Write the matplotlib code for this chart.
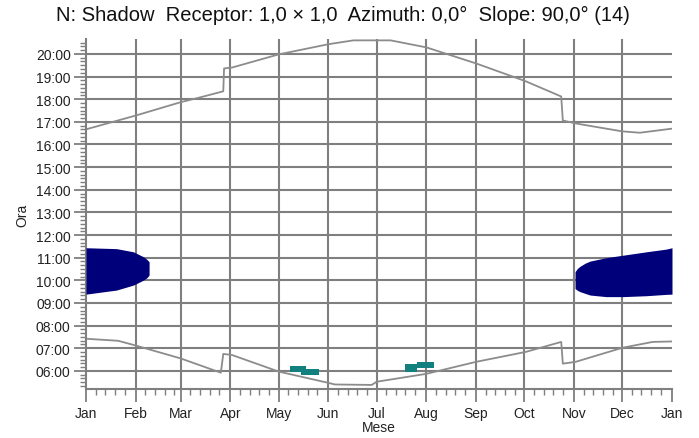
import matplotlib
matplotlib.use('Agg')
from matplotlib import pyplot as plt
from matplotlib.ticker import FixedLocator, FuncFormatter

plt.rcParams['font.family'] = ['Liberation Sans', 'DejaVu Sans']

# month starts (day of year) and labels
month_days = [0, 31, 59, 90, 120, 151, 181, 212, 243, 273, 304, 334, 365]
month_labels = ['Jan', 'Feb', 'Mar', 'Apr', 'May', 'Jun', 'Jul', 'Aug',
                'Sep', 'Oct', 'Nov', 'Dec', 'Jan']

# sunset line (hours), DST jumps included
sunset_days = [0, 31, 59, 71, 85.5, 86, 91, 120, 151, 166.6, 189.7, 212, 243,
               274, 296, 297, 305, 334, 345, 365]
sunset_hours = [16.67, 17.28, 17.87, 18.08, 18.35, 19.36, 19.40, 19.98, 20.43,
                20.60, 20.60, 20.29, 19.58, 18.79, 18.12, 17.06, 16.93, 16.58,
                16.52, 16.70]

# sunrise line
sunrise_days = [0, 20, 31, 59, 84, 85.5, 91, 120, 151, 155, 178, 181, 212, 243,
                274, 296, 297, 305, 334, 353, 365]
sunrise_hours = [7.42, 7.33, 7.12, 6.55, 5.92, 6.75, 6.70, 5.97, 5.47, 5.40,
                 5.38, 5.52, 5.87, 6.40, 6.84, 7.28, 6.32, 6.40, 7.02, 7.28, 7.30]

# shadow periods (navy)
winter1_days = [0, 19, 29.5, 35.8, 38, 39.3]
winter1_hi = [11.44, 11.40, 11.26, 11.04, 10.92, 10.82]
winter1_lo = [9.39, 9.57, 9.79, 10.01, 10.12, 10.23]

winter2_days = [304.6, 306, 307.7, 311, 314, 324, 334.5, 349, 361.5, 365]
winter2_hi = [10.38, 10.52, 10.62, 10.76, 10.85, 11.00, 11.11, 11.26, 11.38, 11.44]
winter2_lo = [9.64, 9.56, 9.50, 9.42, 9.35, 9.28, 9.28, 9.32, 9.38, 9.39]

# small summer shadow patches (teal)
summer1_days = [127, 134, 137, 145]
summer1_hi = [6.21, 6.21, 6.09, 6.09]
summer1_lo = [5.97, 5.84, 5.84, 5.84]

summer2_days = [199, 206, 216.5]
summer2_hi = [6.31, 6.38, 6.38]
summer2_lo = [5.97, 6.13, 6.13]

fig = plt.figure(figsize=(6.99, 4.39), dpi=100)
ax = fig.add_axes([86/699, 1-390/439, 586/699, 350/439])

gc = '#7f7f7f'
ax.fill_between(winter1_days, winter1_lo, winter1_hi, color='#00007a', lw=0, zorder=3)
ax.fill_between(winter2_days, winter2_lo, winter2_hi, color='#00007a', lw=0, zorder=3)
ax.fill_between(summer1_days, summer1_lo, summer1_hi, step='post', color='#138080', lw=0, zorder=3)
ax.fill_between(summer2_days, summer2_lo, summer2_hi, step='post', color='#138080', lw=0, zorder=3)

ax.plot(sunset_days, sunset_hours, color='#8c8c8c', lw=1.3, zorder=2)
ax.plot(sunrise_days, sunrise_hours, color='#8c8c8c', lw=1.3, zorder=2)

ax.set_xlim(0, 365)
ax.set_ylim(5.2, 20.66)

ax.xaxis.set_major_locator(FixedLocator(month_days))
ax.set_xticklabels(month_labels)
minor_x = [d + k for d in month_days[:-1] for k in (6, 12, 18, 24)]
ax.xaxis.set_minor_locator(FixedLocator(minor_x))

ax.yaxis.set_major_locator(FixedLocator(range(6, 21)))
ax.yaxis.set_major_formatter(FuncFormatter(lambda v, p: '%02d:00' % int(round(v))))
ax.yaxis.set_minor_locator(FixedLocator([h / 6 for h in range(32, 124)]))

ax.grid(True, which='major', color=gc, lw=1.5, zorder=1)
ax.get_xgridlines()[-1].set_visible(False)
ax.get_xgridlines()[0].set_visible(False)

for s in ['top', 'right']:
    ax.spines[s].set_visible(False)
for s in ['left', 'bottom']:
    ax.spines[s].set_color(gc)
    ax.spines[s].set_linewidth(1.5)

ax.tick_params(which='major', length=9, width=1.3, color=gc, labelsize=10,
               labelcolor='#222222')
ax.tick_params(which='minor', length=4, width=1.0, color=gc)
ax.tick_params(axis='x', pad=3)
ax.tick_params(axis='y', pad=2)

ax.set_ylabel('Ora', fontsize=10, color='#222222', labelpad=5)
ax.set_xlabel('Mese', fontsize=10, color='#222222', labelpad=0)

fig.text(0.491, 0.964, 'N: Shadow  Receptor: 1,0 \u00d7 1,0  Azimuth: 0,0\u00b0  Slope: 90,0\u00b0 (14)',
         ha='center', va='center', fontsize=14.5, color='#111111')

fig.savefig('out.png', dpi=100)
